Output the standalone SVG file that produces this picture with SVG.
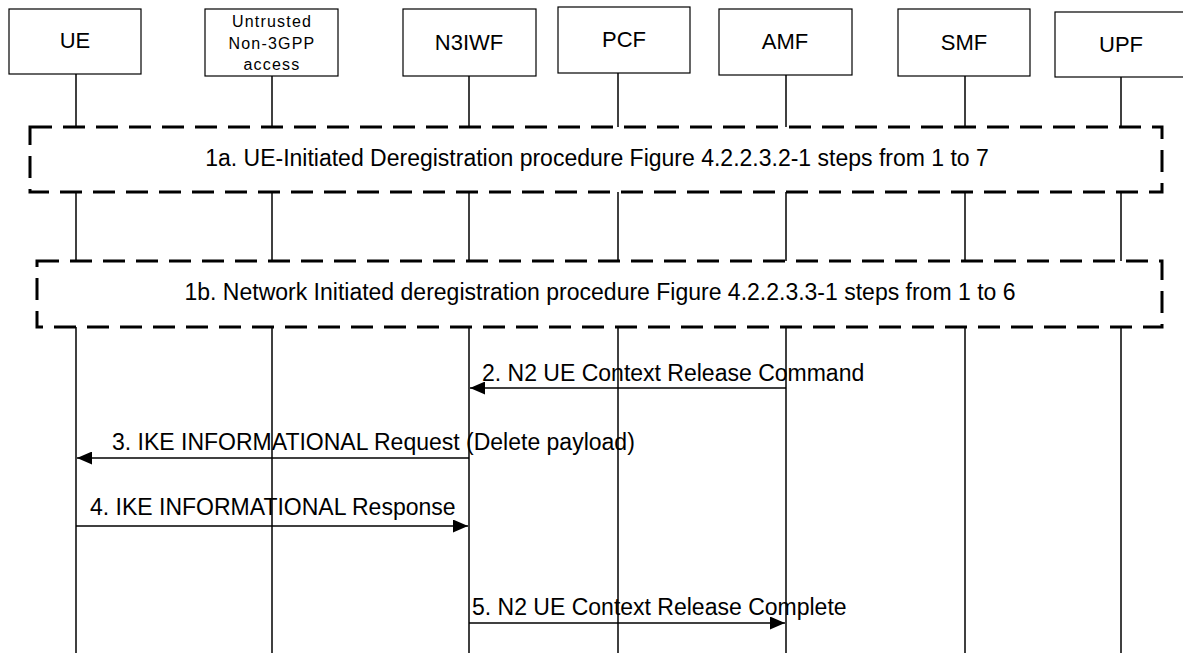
<svg xmlns="http://www.w3.org/2000/svg" width="1183" height="653" viewBox="0 0 1183 653">
<style>
.box{fill:#fff;stroke:#000;stroke-width:1.2}
.life{stroke:#000;stroke-width:1.5;fill:none}
.dash{fill:#fff;stroke:#000;stroke-width:3;stroke-dasharray:22 11}
.lbl{font-family:"Liberation Sans",Arial,sans-serif;font-size:22px;fill:#000;text-anchor:middle}
.big{font-family:"Liberation Sans",Arial,sans-serif;font-size:23px;fill:#000;text-anchor:middle}
.sm{font-family:"Liberation Sans",Arial,sans-serif;font-size:16px;letter-spacing:1.2px;fill:#000;text-anchor:middle}
.msg{font-family:"Liberation Sans",Arial,sans-serif;font-size:23px;fill:#000}
.arr{stroke:#000;stroke-width:1.5;fill:none}
</style>
<defs>
<marker id="ah" viewBox="0 0 15 13" refX="15" refY="6.5" markerWidth="15" markerHeight="13" markerUnits="userSpaceOnUse" orient="auto">
<path d="M0,0 L15,6.5 L0,13 Z" fill="#000"/>
</marker>
</defs>
<g id="lifelines">
<line class="life" x1="76" y1="74" x2="76" y2="653"/>
<line class="life" x1="272" y1="76" x2="272" y2="653"/>
<line class="life" x1="469" y1="76" x2="469" y2="653"/>
<line class="life" x1="618" y1="73" x2="618" y2="653"/>
<line class="life" x1="786" y1="75" x2="786" y2="653"/>
<line class="life" x1="965" y1="76" x2="965" y2="653"/>
<line class="life" x1="1121" y1="77" x2="1121" y2="653"/>
</g>
<g id="UE"><rect class="box" x="9" y="9" width="132" height="65"/><text class="lbl" x="75" y="48">UE</text></g>
<g id="Untrusted"><rect class="box" x="205" y="9" width="133" height="67"/><text class="sm" x="272" y="27">Untrusted</text><text class="sm" x="272" y="49">Non-3GPP</text><text class="sm" x="272" y="70">access</text></g>
<g id="N3IWF"><rect class="box" x="403" y="9" width="133" height="67"/><text class="lbl" x="469" y="50">N3IWF</text></g>
<g id="PCF"><rect class="box" x="558" y="7" width="132" height="66"/><text class="lbl" x="624" y="47">PCF</text></g>
<g id="AMF"><rect class="box" x="719" y="9" width="133" height="66"/><text class="lbl" x="785" y="49">AMF</text></g>
<g id="SMF"><rect class="box" x="898" y="9" width="132" height="67"/><text class="lbl" x="964" y="50">SMF</text></g>
<g id="UPF"><rect class="box" x="1055" y="12" width="133" height="65"/><text class="lbl" x="1121" y="52">UPF</text></g>
<g id="step1a"><rect class="dash" x="30" y="127" width="1132" height="65"/><text class="big" x="597" y="166">1a. UE-Initiated Deregistration procedure Figure 4.2.2.3.2-1 steps from 1 to 7</text></g>
<g id="step1b"><rect class="dash" x="37" y="261" width="1125" height="66"/><text class="big" x="600" y="300">1b. Network Initiated deregistration procedure Figure 4.2.2.3.3-1 steps from 1 to 6</text></g>
<g id="connectors">
<line class="arr" x1="786" y1="388" x2="470" y2="388" marker-end="url(#ah)"/>
<text class="msg" x="482" y="381">2. N2 UE Context Release Command</text>
<line class="arr" x1="469" y1="458" x2="77" y2="458" marker-end="url(#ah)"/>
<text class="msg" x="112" y="450">3. IKE INFORMATIONAL Request (Delete payload)</text>
<line class="arr" x1="76" y1="526" x2="468" y2="526" marker-end="url(#ah)"/>
<text class="msg" x="90" y="515">4. IKE INFORMATIONAL Response</text>
<line class="arr" x1="469" y1="623" x2="785" y2="623" marker-end="url(#ah)"/>
<text class="msg" x="472" y="615">5. N2 UE Context Release Complete</text>
</g>
</svg>
